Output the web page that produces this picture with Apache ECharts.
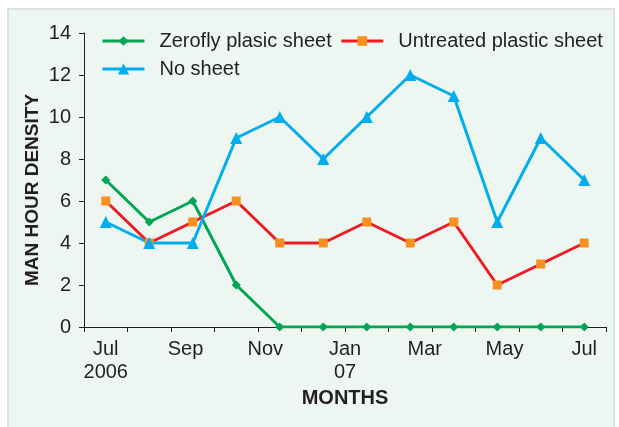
<!DOCTYPE html>
<html>
<head>
<meta charset="utf-8">
<script src="https://cdn.jsdelivr.net/npm/echarts@6/dist/echarts.min.js"></script>
<style>
  html, body { margin: 0; padding: 0; background: #fff; }
  #wrap { position: relative; width: 619px; height: 427px; }
  #panel { position: absolute; left: 7px; top: 8px; width: 604px; height: 420px;
    background: #eef6f1; border: 2px solid #dedfdf; border-bottom: none; }
  #main { position: absolute; left: 0; top: 0; width: 619px; height: 427px; }
</style>
</head>
<body>
<div id="wrap">
  <div id="panel"></div>
  <div id="main"></div>
</div>
<script>
// months Jul 2006 .. Jun 2007 (12 points)
var months = ['Jul','Aug','Sep','Oct','Nov','Dec','Jan','Feb','Mar','Apr','May','Jun'];
var zerofly = [7, 5, 6, 2, 0, 0, 0, 0, 0, 0, 0, 0];
var untreated = [6, 4, 5, 6, 4, 4, 5, 4, 5, 2, 3, 4];
var noSheet = [5, 4, 4, 9, 10, 8, 10, 12, 11, 5, 9, 7];
var tickLabels = ['Jul\n2006', 'Sep', 'Nov', 'Jan\n07', 'Mar', 'May', 'Jul'];

var font = 'Arial, "Liberation Sans", sans-serif';
var txt = '#231f20';

function pairs(arr){
  return arr.map(function(v, i){ return [i, v]; });
}
// axis labels spread evenly from first to last point
var labelPos = tickLabels.map(function(t, i){ return i * (months.length - 1) / (tickLabels.length - 1); });
var tickPos = [];
for (var k = 0; k <= months.length; k++) tickPos.push(k - 0.5);

var chart = echarts.init(document.getElementById('main'));
var option = {
  backgroundColor: 'transparent',
  animation: false,
  textStyle: { fontFamily: font },
  grid: { left: 84, right: 13, top: 33, bottom: 100 },
  legend: [
    {
      left: 96, top: 26, itemWidth: 42, itemHeight: 12, itemGap: 8,
      lineStyle: { width: 3 },
      textStyle: { fontSize: 20, color: txt, fontFamily: font, padding: [0, 0, 0, 10] },
      data: ['Zerofly plasic sheet', 'Untreated plastic sheet']
    },
    {
      left: 96, top: 54, itemWidth: 42, itemHeight: 14,
      lineStyle: { width: 3 },
      textStyle: { fontSize: 20, color: txt, fontFamily: font, padding: [0, 0, 0, 10] },
      data: ['No sheet']
    }
  ],
  xAxis: {
    type: 'value', min: -0.5, max: 11.5,
    name: 'MONTHS', nameLocation: 'middle', nameGap: 60,
    nameTextStyle: { fontSize: 20, fontWeight: 'bold', color: txt, fontFamily: font },
    splitLine: { show: false },
    axisLine: { onZero: false, lineStyle: { color: txt, width: 1 } },
    axisTick: { customValues: tickPos, length: 5, lineStyle: { color: txt } },
    axisLabel: {
      customValues: labelPos, fontSize: 20, color: txt, margin: 11, lineHeight: 23,
      formatter: function(v){
        for (var i = 0; i < labelPos.length; i++) if (Math.abs(labelPos[i] - v) < 1e-6) return tickLabels[i];
        return '';
      }
    }
  },
  yAxis: {
    type: 'value', min: 0, max: 14, interval: 2,
    name: 'MAN HOUR DENSITY', nameLocation: 'middle', nameGap: 42, nameMoveOverlap: false,
    nameTextStyle: { fontSize: 19, fontWeight: 'bold', color: txt, fontFamily: font, padding: [0, 20, 0, 0] },
    splitLine: { show: false },
    axisLine: { show: true, onZero: false, lineStyle: { color: txt, width: 1 } },
    axisTick: { show: true, length: 5, lineStyle: { color: txt } },
    axisLabel: { fontSize: 20, color: txt, margin: 13 }
  },
  series: [
    {
      name: 'Zerofly plasic sheet', type: 'line', data: pairs(zerofly),
      symbol: 'diamond', symbolSize: 9,
      lineStyle: { color: '#00a651', width: 3 },
      itemStyle: { color: '#00a651' }
    },
    {
      name: 'Untreated plastic sheet', type: 'line', data: pairs(untreated),
      symbol: 'rect', symbolSize: 9,
      lineStyle: { color: '#ed1c24', width: 3 },
      itemStyle: { color: '#f7901e' }
    },
    {
      name: 'No sheet', type: 'line', data: pairs(noSheet),
      symbol: 'triangle', symbolSize: 12,
      lineStyle: { color: '#00aeef', width: 3 },
      itemStyle: { color: '#00aeef' }
    }
  ]
};
chart.setOption(option);
</script>
</body>
</html>
